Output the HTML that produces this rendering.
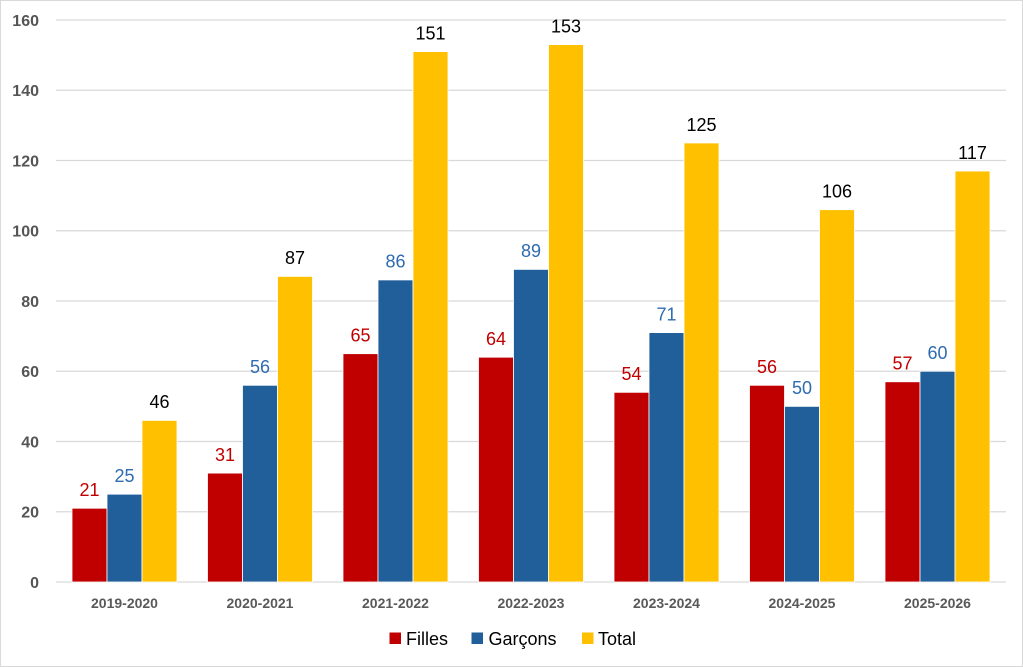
<!DOCTYPE html>
<html><head><meta charset="utf-8"><style>
html,body{margin:0;padding:0;background:#fff;}
svg{display:block;}
</style></head><body>
<svg width="1023" height="667" viewBox="0 0 1023 667" xmlns="http://www.w3.org/2000/svg">
<rect x="0.5" y="0.5" width="1022" height="666" fill="#fff" stroke="#D9D9D9" stroke-width="1"/>
<g stroke="#D9D9D9" stroke-width="1.3">
<line x1="56" x2="1006" y1="20" y2="20"/>
<line x1="56" x2="1006" y1="90.25" y2="90.25"/>
<line x1="56" x2="1006" y1="160.5" y2="160.5"/>
<line x1="56" x2="1006" y1="230.75" y2="230.75"/>
<line x1="56" x2="1006" y1="301" y2="301"/>
<line x1="56" x2="1006" y1="371.25" y2="371.25"/>
<line x1="56" x2="1006" y1="441.5" y2="441.5"/>
<line x1="56" x2="1006" y1="511.75" y2="511.75"/>
<line x1="56" x2="1006" y1="582" y2="582"/>
</g>
<g font-family="Liberation Sans, sans-serif" font-weight="bold" font-size="16" fill="#555" text-anchor="end">
<text x="39" y="26">160</text>
<text x="39" y="96">140</text>
<text x="39" y="166.5">120</text>
<text x="39" y="236.5">100</text>
<text x="39" y="307">80</text>
<text x="39" y="377">60</text>
<text x="39" y="447.5">40</text>
<text x="39" y="517.5">20</text>
<text x="39" y="588">0</text>
</g>
<g stroke="#fff" stroke-width="0.8">
<g fill="#C00000">
<rect x="72" y="508.24" width="35" height="73.76"/>
<rect x="207.5" y="473.11" width="35" height="108.89"/>
<rect x="343" y="353.69" width="35" height="228.31"/>
<rect x="478.5" y="357.2" width="35" height="224.8"/>
<rect x="614" y="392.33" width="35" height="189.67"/>
<rect x="749.5" y="385.3" width="35" height="196.7"/>
<rect x="885" y="381.79" width="35" height="200.21"/>
</g>
<g fill="#215F9A">
<rect x="107" y="494.19" width="35" height="87.81"/>
<rect x="242.5" y="385.3" width="35" height="196.7"/>
<rect x="378" y="279.93" width="35" height="302.07"/>
<rect x="513.5" y="269.39" width="35" height="312.61"/>
<rect x="649" y="332.61" width="35" height="249.39"/>
<rect x="784.5" y="406.38" width="35" height="175.62"/>
<rect x="920" y="371.25" width="35" height="210.75"/>
</g>
<g fill="#FFC000">
<rect x="142" y="420.43" width="35" height="161.57"/>
<rect x="277.5" y="276.41" width="35" height="305.59"/>
<rect x="413" y="51.61" width="35" height="530.39"/>
<rect x="548.5" y="44.59" width="35" height="537.41"/>
<rect x="684" y="142.94" width="35" height="439.06"/>
<rect x="819.5" y="209.68" width="35" height="372.32"/>
<rect x="955" y="171.04" width="35" height="410.96"/>
</g>
</g>
<g font-family="Liberation Sans, sans-serif" font-size="18" text-anchor="middle">
<g fill="#C00000">
<text x="89.5" y="496">21</text>
<text x="225" y="461">31</text>
<text x="360.5" y="341.5">65</text>
<text x="496" y="345">64</text>
<text x="631.5" y="380">54</text>
<text x="767" y="373">56</text>
<text x="902.5" y="369.5">57</text>
</g>
<g fill="#2E6BB0">
<text x="124.5" y="482">25</text>
<text x="260" y="373">56</text>
<text x="395.5" y="267.5">86</text>
<text x="531" y="257">89</text>
<text x="666.5" y="320.5">71</text>
<text x="802" y="394">50</text>
<text x="937.5" y="359">60</text>
</g>
<g fill="#000">
<text x="159.5" y="408">46</text>
<text x="295" y="264">87</text>
<text x="430.5" y="39.5">151</text>
<text x="566" y="32.5">153</text>
<text x="701.5" y="131">125</text>
<text x="837" y="197.5">106</text>
<text x="972.5" y="159">117</text>
</g>
</g>
<g font-family="Liberation Sans, sans-serif" font-weight="bold" font-size="14" fill="#595959" text-anchor="middle">
<text x="124.5" y="608">2019-2020</text>
<text x="260" y="608">2020-2021</text>
<text x="395.5" y="608">2021-2022</text>
<text x="531" y="608">2022-2023</text>
<text x="666.5" y="608">2023-2024</text>
<text x="802" y="608">2024-2025</text>
<text x="937.5" y="608">2025-2026</text>
</g>
<rect x="389.5" y="632.5" width="11.5" height="11.5" fill="#C00000"/>
<rect x="471.5" y="632.5" width="11.5" height="11.5" fill="#215F9A"/>
<rect x="582" y="632.5" width="11.5" height="11.5" fill="#FFC000"/>
<g font-family="Liberation Sans, sans-serif" font-size="18" fill="#000">
<text x="406" y="645">Filles</text>
<text x="488.5" y="645">Garçons</text>
<text x="598" y="645">Total</text>
</g>
</svg>
</body></html>
